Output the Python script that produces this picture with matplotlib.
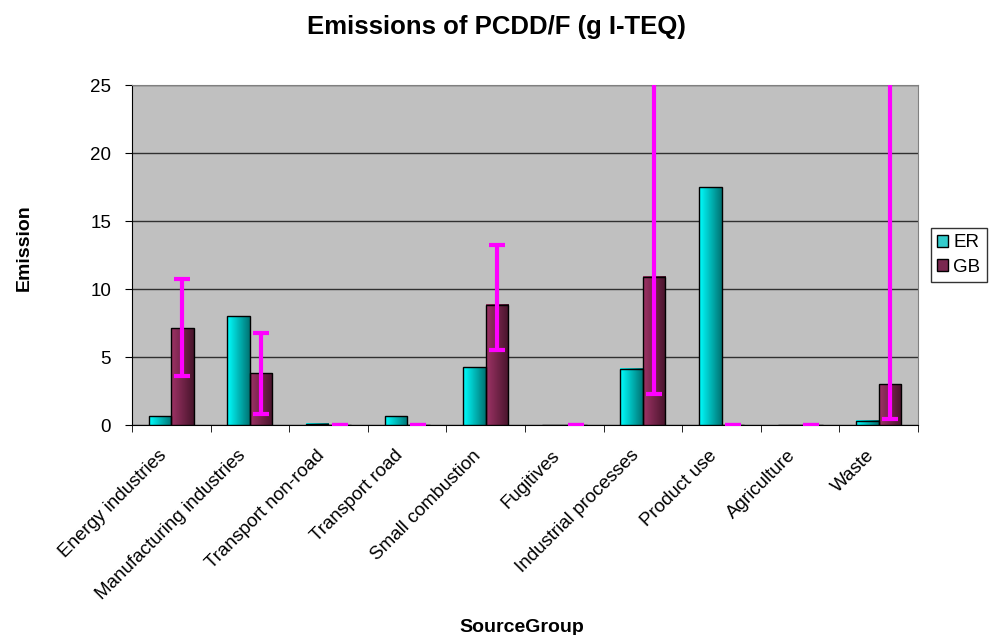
import matplotlib.pyplot as plt
import matplotlib.transforms as mtransforms
import numpy as np

plt.rcParams['font.family'] = ['Liberation Sans', 'DejaVu Sans']

# data
groups = ['Energy industries', 'Manufacturing industries', 'Transport non-road',
          'Transport road', 'Small combustion', 'Fugitives', 'Industrial processes',
          'Product use', 'Agriculture', 'Waste']
er = [0.65, 8.0, 0.08, 0.65, 4.25, 0.0, 4.15, 17.5, 0.0, 0.3]
gb = [7.1, 3.8, 0.0, 0.0, 8.85, 0.0, 10.9, 0.0, 0.0, 3.0]
gb_low = [3.6, 0.8, 0.0, 0.0, 5.5, 0.0, 2.25, 0.0, 0.0, 0.45]
gb_high = [10.7, 6.8, 0.0, 0.0, 13.25, 0.0, 40.0, 0.0, 0.0, 40.0]

fig = plt.figure(figsize=(9.9, 6.35), dpi=100)
ax = fig.add_axes([0.1333, 0.3307, 0.794, 0.5354])
ax.set_facecolor('#c0c0c0')

x = np.arange(len(groups))
w = 1 / 3.5

bars_er = ax.bar(x - w / 2, er, w, color='#00ffff', edgecolor='black', linewidth=1, label='ER', zorder=3)
bars_gb = ax.bar(x + w / 2, gb, w, color='#993366', edgecolor='black', linewidth=1, label='GB', zorder=3)

# horizontal gradient fill like the Excel bars
def shade(bars, c_left, c_right):
    c1 = np.array(c_left)
    c2 = np.array(c_right)
    t = np.linspace(0, 1, 64)[None, :, None]
    img = c1 * (1 - t) + c2 * t
    for b in bars:
        if b.get_height() <= 0:
            continue
        x0 = b.get_x()
        ax.imshow(img, extent=[x0, x0 + b.get_width(), 0, b.get_height()],
                  aspect='auto', zorder=3.5, interpolation='bilinear')
        b.set_facecolor('none')
        b.set_zorder(4)

shade(bars_er, (0.0, 1.0, 1.0), (0.0, 0.45, 0.45))
shade(bars_gb, (0.62, 0.2, 0.4), (0.28, 0.08, 0.17))

yerr = [np.array(gb) - np.array(gb_low), np.array(gb_high) - np.array(gb)]
ax.errorbar(x + w / 2, gb, yerr=yerr, fmt='none', ecolor='#ff00ff',
            elinewidth=3, capsize=6, capthick=3, zorder=5)

ax.set_xlim(-0.5, len(groups) - 0.5)
ax.set_ylim(0, 25)
ax.set_yticks([0, 5, 10, 15, 20, 25])
ax.grid(axis='y', color='#303030', linewidth=1, zorder=1)

ax.set_xticks(x)
ax.set_xticklabels(groups, rotation=45, ha='right', rotation_mode='anchor', fontsize=13.5)
ax.set_xticks(np.arange(len(groups) + 1) - 0.5, minor=True)
ax.tick_params(axis='x', which='major', length=0, pad=10)
ax.tick_params(axis='x', which='minor', length=5, color='black')
ax.tick_params(axis='y', length=5, labelsize=13.5, pad=10)

# nudge the slanted labels a bit left/down
shift = mtransforms.ScaledTranslation(-0.13, -0.08, fig.dpi_scale_trans)
for lab in ax.get_xticklabels():
    lab.set_transform(lab.get_transform() + shift)

for s in ['top', 'right']:
    ax.spines[s].set_color('#808080')
for s in ['left', 'bottom']:
    ax.spines[s].set_color('black')

fig.text(24 / 990, 1 - 248 / 635, 'Emission', rotation=90, ha='center', va='center',
         fontsize=14, fontweight='bold')
fig.text(0.527, 1 - 632 / 635, 'SourceGroup', ha='center', va='baseline', fontsize=14, fontweight='bold')
fig.text(0.501, 1 - 34 / 635, 'Emissions of PCDD/F (g I-TEQ)', ha='center', va='baseline',
         fontsize=18.5, fontweight='bold')

leg = ax.legend(loc='center left', bbox_to_anchor=(1.016, 0.5), frameon=True, fancybox=False,
                edgecolor='black', fontsize=13.5, handlelength=0.6, handleheight=0.6,
                handletextpad=0.25, borderpad=0.35, labelspacing=0.4, borderaxespad=0)
leg.legend_handles[0].set_facecolor('#33cccc')
leg.legend_handles[1].set_facecolor('#7a2850')

fig.savefig('out.png', dpi=100)
